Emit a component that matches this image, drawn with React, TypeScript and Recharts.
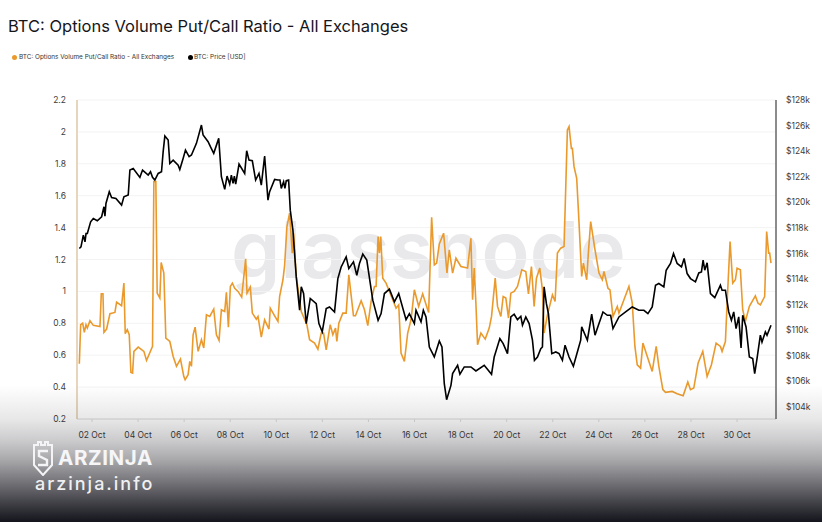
import React from "react";
import { LineChart, Line, XAxis, YAxis, CartesianGrid } from "recharts";

const chartTitle = "BTC: Options Volume Put/Call Ratio - All Exchanges";
const ratioName = "BTC: Options Volume Put/Call Ratio - All Exchanges";
const priceName = "BTC: Price [USD]";

const ratioDays = [1.451,1.509,1.596,1.668,1.74,1.798,1.913,2.058,2.347,2.404,2.477,2.52,2.635,2.78,2.996,3.069,3.285,3.386,3.444,3.531,3.617,3.69,3.762,3.82,4.007,4.253,4.368,4.628,4.686,4.772,4.83,4.946,5.004,5.119,5.206,5.379,5.524,5.668,5.841,5.986,6.043,6.173,6.245,6.318,6.39,6.477,6.607,6.751,6.852,6.968,7.112,7.285,7.401,7.516,7.617,7.762,7.834,7.921,8.007,8.094,8.195,8.339,8.498,8.671,8.729,8.873,8.96,9.133,9.206,9.35,9.494,9.682,9.74,9.928,10.072,10.144,10.289,10.361,10.462,10.578,10.693,10.75,10.867,11.084,11.329,11.445,11.661,11.806,11.951,12.052,12.167,12.34,12.455,12.571,12.629,12.715,12.888,13.033,13.148,13.35,13.437,13.683,13.827,13.971,14.116,14.26,14.332,14.419,14.477,14.534,14.621,14.765,15.054,15.199,15.314,15.415,15.56,15.704,15.848,15.993,16.18,16.354,16.527,16.613,16.743,16.859,16.96,17.076,17.263,17.408,17.509,17.653,17.798,18.014,18.303,18.447,18.52,18.592,18.664,18.736,18.881,19.069,19.242,19.343,19.502,19.603,19.747,19.848,19.964,20.079,20.18,20.325,20.469,20.657,20.83,20.945,21.075,21.191,21.292,21.437,21.552,21.624,21.769,21.986,22.101,22.202,22.346,22.491,22.635,22.707,22.808,22.852,22.924,23.039,23.112,23.256,23.328,23.473,23.545,23.646,23.834,24.007,24.151,24.224,24.397,24.484,24.614,24.801,24.873,25.09,25.306,25.451,25.566,25.667,25.812,25.913,26.057,26.317,26.49,26.605,26.779,26.894,27.183,27.4,27.66,27.862,27.978,28.122,28.31,28.512,28.7,28.887,29.09,29.277,29.349,29.494,29.581,29.696,29.812,29.927,30,30.144,30.245,30.361,30.534,30.794,30.91,31.011,31.198,31.285,31.372,31.415,31.473];
const ratioValues = [0.547,0.791,0.801,0.743,0.791,0.77,0.816,0.787,0.78,0.985,0.985,0.743,0.764,0.86,0.868,0.933,0.91,1.052,0.735,0.76,0.728,0.492,0.488,0.624,0.651,0.624,0.567,0.655,1.688,1.688,0.989,0.958,1.181,1.115,0.707,0.686,0.592,0.53,0.576,0.467,0.446,0.478,0.561,0.53,0.728,0.776,0.624,0.697,0.645,0.853,0.843,0.889,0.728,0.693,0.885,0.874,0.995,0.776,1.031,1.052,1.02,1,0.964,1.204,0.989,1.027,0.864,0.826,0.843,0.714,0.822,0.764,0.895,0.847,0.812,0.968,1.073,1.162,1.407,1.49,1.24,1.365,1.094,0.874,0.791,0.697,0.676,0.638,0.739,0.739,0.634,0.791,0.728,0.77,0.686,0.801,0.864,0.864,1.104,0.847,0.847,0.941,0.885,0.785,0.937,1.031,1.031,1.344,1.24,1.344,1.083,1.052,0.948,0.895,0.916,0.613,0.561,0.739,0.822,1.01,0.906,0.985,0.906,0.868,1.465,1.166,1.177,1.298,1.365,1.115,1.261,1.115,1.208,1.156,1.146,1.333,0.948,1.146,0.926,0.666,0.739,0.701,0.77,0.843,1.083,0.906,0.843,0.968,0.958,0.833,0.989,1,1.031,1.135,1.125,0.985,1.156,0.906,1.083,1.146,1.01,0.739,0.853,0.979,0.937,1.24,1.271,1.281,2.012,2.033,1.897,1.897,1.782,1.709,1.511,1.094,1.177,1.073,1.24,1.438,1.261,1.115,1.073,1.125,1.02,1.01,0.843,0.906,0.864,0.948,1.031,0.926,0.655,0.54,0.519,0.676,0.613,0.498,0.655,0.53,0.384,0.367,0.373,0.359,0.346,0.432,0.384,0.394,0.551,0.624,0.467,0.54,0.676,0.655,0.624,0.686,0.968,1.312,1.052,1.073,1.146,1.135,0.885,0.812,0.906,0.972,0.926,0.916,0.968,1.375,1.24,1.24,1.177];

const priceDays = [1.451,1.523,1.625,1.697,1.742,1.798,1.942,2.058,2.231,2.419,2.52,2.563,2.607,2.751,2.852,3.04,3.285,3.386,3.574,3.646,3.791,4.079,4.195,4.44,4.541,4.628,4.729,4.874,5.018,5.09,5.163,5.307,5.379,5.524,5.74,5.812,5.956,6.058,6.216,6.318,6.534,6.751,6.823,7.04,7.141,7.285,7.502,7.617,7.762,7.863,7.978,8.05,8.123,8.18,8.238,8.383,8.628,8.715,8.816,8.96,9.104,9.249,9.35,9.494,9.639,9.711,9.928,10.072,10.16,10.217,10.318,10.375,10.433,10.535,10.607,10.722,10.867,11.012,11.084,11.185,11.3,11.474,11.734,11.85,11.994,12.167,12.311,12.528,12.672,12.816,13.033,13.148,13.35,13.495,13.61,13.755,13.928,14.188,14.419,14.549,14.693,14.91,15.127,15.314,15.632,15.776,15.993,16.065,16.282,16.383,16.498,16.643,16.859,17.076,17.191,17.292,17.393,17.581,17.653,17.87,17.971,18.159,18.447,18.664,19.025,19.343,19.459,19.704,19.848,20.036,20.18,20.325,20.469,20.614,20.686,20.83,20.975,21.119,21.206,21.336,21.48,21.552,21.624,21.725,21.812,21.957,22.13,22.274,22.419,22.534,22.707,22.895,23.068,23.213,23.256,23.502,23.69,23.834,24.007,24.18,24.368,24.513,24.614,24.873,25.162,25.451,25.74,25.957,26.13,26.317,26.461,26.605,26.822,26.923,27.111,27.241,27.4,27.588,27.703,27.833,27.978,28.194,28.339,28.454,28.526,28.598,28.7,28.845,29.033,29.277,29.349,29.494,29.639,29.754,29.855,29.956,30.072,30.173,30.245,30.39,30.534,30.679,30.765,30.866,31.011,31.083,31.228,31.3,31.473];
const priceValues = [116390,116520,117430,116910,117560,117570,118480,118740,118560,118870,119650,118920,119910,120830,120380,120300,119780,120430,120570,122520,122650,121950,122520,122130,122390,121950,121740,122260,122390,123960,125180,124870,123040,123300,122910,122570,123430,124090,123570,123700,124610,126040,125260,124740,124350,123830,125000,122000,121010,122050,121430,122130,121480,122050,121430,122990,122260,124030,123300,123250,121740,122260,121350,123620,120170,120830,121790,121740,121740,121090,121610,121090,121690,121740,119390,117830,114170,111560,113390,112870,110520,112480,112080,110520,109870,111690,111820,111430,114040,114950,115740,114830,115350,114300,115220,115950,115480,112350,110780,111300,112870,113210,112220,112870,110830,111300,110520,111560,110650,111560,111040,108690,107910,109160,108690,105820,104570,105690,106610,107260,106560,107130,107130,106820,107260,106560,107910,109350,108950,108170,111040,111250,110830,111090,110390,111040,110520,109220,107650,107910,108560,108690,113390,112080,111300,108170,108300,108170,107650,108830,107910,107180,108300,109220,110260,109220,111250,109610,110520,111430,111170,111170,110130,111040,111430,111820,111560,111560,111300,111820,113520,113650,113390,114690,115220,116000,115220,114950,115610,114430,114040,113780,114480,114560,115480,114690,115270,112870,112550,113520,113130,113130,111430,110780,111430,110130,111040,108620,111170,110260,107910,107780,106610,107780,109610,109080,109870,109610,110390];

const ratioTicks = [0.2,0.4,0.6,0.8,1,1.2,1.4,1.6,1.8,2,2.2];
const priceTicks = [104000,106000,108000,110000,112000,114000,116000,118000,120000,122000,124000,126000,128000];
const dayTicks = [2,4,6,8,10,12,14,16,18,20,22,24,26,28,30];

const ratioData = ratioDays.map((day, i) => ({ day, ratio: ratioValues[i] }));
const priceData = priceDays.map((day, i) => ({ day, price: priceValues[i] }));

const ORANGE = "#ea9a2c";
const font = "Inter, 'Noto Sans', sans-serif";
const abs = (o: React.CSSProperties): React.CSSProperties => ({ position: "absolute", ...o });

export default function App() {
  return (
    <div style={abs({ left: 0, top: 0, width: 822, height: 522, background: "#fff", overflow: "hidden", fontFamily: font })}>
      <div style={abs({ left: 8, top: 15, fontSize: 16.5, color: "#16161a", whiteSpace: "nowrap", lineHeight: "22px" })}>{chartTitle}</div>

      <div style={abs({ left: 12, top: 55, width: 5, height: 5, borderRadius: 3, background: ORANGE })} />
      <div style={abs({ left: 19, top: 52, fontSize: 6.4, lineHeight: "11px", color: "#333", whiteSpace: "nowrap" })}>{ratioName}</div>
      <div style={abs({ left: 188, top: 55, width: 5, height: 5, borderRadius: 3, background: "#000" })} />
      <div style={abs({ left: 194, top: 52, fontSize: 6.4, lineHeight: "11px", color: "#333", whiteSpace: "nowrap" })}>{priceName}</div>

      <div style={abs({ left: 231, top: 194, fontSize: 79, lineHeight: "110px", color: "#e9e9eb", fontWeight: 600, whiteSpace: "nowrap" })}>glassnode</div>

      <div style={abs({ left: 0, top: 0 })}>
        <LineChart width={822} height={522} margin={{ top: 100, right: 6, bottom: 72, left: 37 }}>
          <CartesianGrid yAxisId="ratio" vertical={false} stroke="#f3f3f3" strokeWidth={1} />
          <XAxis
            xAxisId="t"
            dataKey="day"
            type="number"
            domain={[1.35, 31.69]}
            allowDataOverflow
            ticks={dayTicks}
            interval={0}
            height={31}
            tickLine={{ stroke: "#dcdcdc" }}
            tickSize={3}
            tickMargin={10}
            axisLine={{ stroke: "#dedede" }}
            tick={{ fontSize: 8.5, fill: "#3c3c3c", fontFamily: font }}
            tickFormatter={(d: number) => `${String(d).padStart(2, "0")} Oct`}
          />
          <YAxis
            yAxisId="ratio"
            orientation="left"
            type="number"
            width={40}
            domain={[0.2, 2.2]}
            ticks={ratioTicks}
            interval={0}
            tickSize={0}
            tickMargin={11}
            axisLine={{ stroke: "#dfc8a6", strokeWidth: 1.5 }}
            tick={{ fontSize: 8.5, fill: "#3c3c3c", fontFamily: font }}
          />
          <YAxis
            yAxisId="price"
            orientation="right"
            type="number"
            width={40}
            domain={[103060, 128000]}
            ticks={priceTicks}
            interval={0}
            tickSize={0}
            tickMargin={10}
            axisLine={{ stroke: "#666", strokeWidth: 1.5 }}
            tick={{ fontSize: 8.5, fill: "#3c3c3c", fontFamily: font }}
            tickFormatter={(v: number) => `$${v / 1000}k`}
          />
          <Line xAxisId="t" yAxisId="ratio" data={ratioData} dataKey="ratio" name={ratioName} type="linear" stroke={ORANGE} strokeWidth={1.6} dot={false} isAnimationActive={false} />
          <Line xAxisId="t" yAxisId="price" data={priceData} dataKey="price" name={priceName} type="linear" stroke="#000" strokeWidth={1.6} dot={false} isAnimationActive={false} />
        </LineChart>
      </div>

      <div style={abs({ left: 0, top: 385, width: 822, height: 137, background: "linear-gradient(to bottom, rgba(24,24,32,0) 0%, rgba(24,24,32,0.1) 25%, rgba(24,24,32,0.22) 40%, rgba(24,24,32,0.38) 55%, rgba(24,24,32,0.62) 72%, rgba(24,24,32,0.85) 88%, rgba(20,20,28,1) 100%)" })} />

      <svg style={abs({ left: 32, top: 440 })} width={22} height={36} viewBox="0 0 22 36">
        <path d="M2 5 L6 5 L6 2 L9 2 L9 5 L13 5 L13 2 L16 2 L16 5 L20 5 L20 25 L11 35 L2 25 Z" fill="none" stroke="#f4f4f6" strokeWidth={2} />
        <path d="M16 11 L7 11 L7 16 L15 20 L15 25 L6 25" fill="none" stroke="#f4f4f6" strokeWidth={2.4} />
      </svg>
      <div style={abs({ left: 58, top: 444, fontSize: 20.5, lineHeight: "28px", fontWeight: 700, color: "#f6f6f8", letterSpacing: 0.6, whiteSpace: "nowrap" })}>ARZINJA</div>
      <div style={abs({ left: 35, top: 472, fontSize: 18, lineHeight: "24px", fontWeight: 500, color: "#f0f0f2", letterSpacing: 2, whiteSpace: "nowrap" })}>arzinja.info</div>
    </div>
  );
}
